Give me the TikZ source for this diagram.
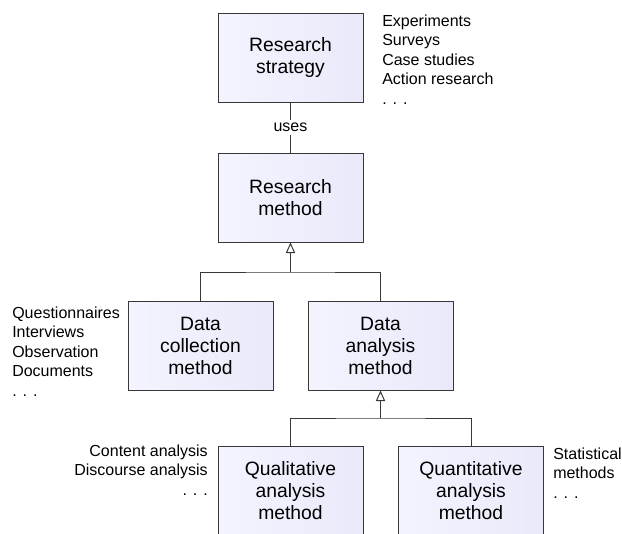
\documentclass[tikz,border=0pt]{standalone}
\usepackage{fontspec}
\setmainfont{Liberation Sans}
\usetikzlibrary{arrows.meta,positioning}
\definecolor{boxlight}{HTML}{F4F4FF}
\definecolor{boxdark}{HTML}{E9E9FA}
\definecolor{edge}{HTML}{383838}

\begin{document}
\begin{tikzpicture}[
  x=0.75pt, y=-0.75pt,
  method/.style={draw=edge, line width=0.75pt, left color=boxlight, right color=boxdark, minimum width=108.75pt, minimum height=66.75pt, align=center, inner sep=0pt, font=\fontsize{14.5}{16.5}\selectfont},
  list/.style={inner sep=0pt, font=\fontsize{12}{14.6}\selectfont},
  link/.style={draw=edge, line width=0.75pt},
  inherit/.style={link, -{Triangle[open, length=8pt, width=7pt]}}
]
\useasboundingbox (0,0) rectangle (622,533);

% methods
\node[method] (strat) at (290.5, 57.5) {Research\\strategy};
\node[method] (meth)  at (290.5, 197.5) {Research\\method};
\node[method] (coll)  at (200.5, 345.5) {Data\\collection\\method};
\node[method] (anal)  at (380.5, 345.5) {Data\\analysis\\method};
\node[method] (qual)  at (290.5, 490.5) {Qualitative\\analysis\\method};
\node[method] (quant) at (471, 490.5) {Quantitative\\analysis\\method};

% examples (base = last line)
\node[list, anchor=base west, align=left]  (stratex) at (382, 104) {Experiments\\Surveys\\Case studies\\Action research\\. . .};
\node[list, anchor=base west, align=left]  (collex)  at (12, 396) {Questionnaires\\Interviews\\Observation\\Documents\\. . .};
\node[list, anchor=base east, align=right] (qualex)  at (208, 495) {Content analysis\\Discourse analysis\\. . .};
\node[list, anchor=base west, align=left]  (quantex) at (553, 498) {Statistical\\methods\\. . .};

% connectors
\draw[link] (strat) -- node[list, fill=white, inner sep=2pt] (uses) {uses} (meth);
\coordinate (split1) at (290.5, 272);
\draw[link] (coll.north) |- (split1) -| (anal.north);
\draw[inherit] (split1) -- (meth.south);
\coordinate (split2) at (380.5, 418);
\draw[link] (qual.north) |- (split2) -| (quant.north);
\draw[inherit] (split2) -- (anal.south);
\end{tikzpicture}
\end{document}
